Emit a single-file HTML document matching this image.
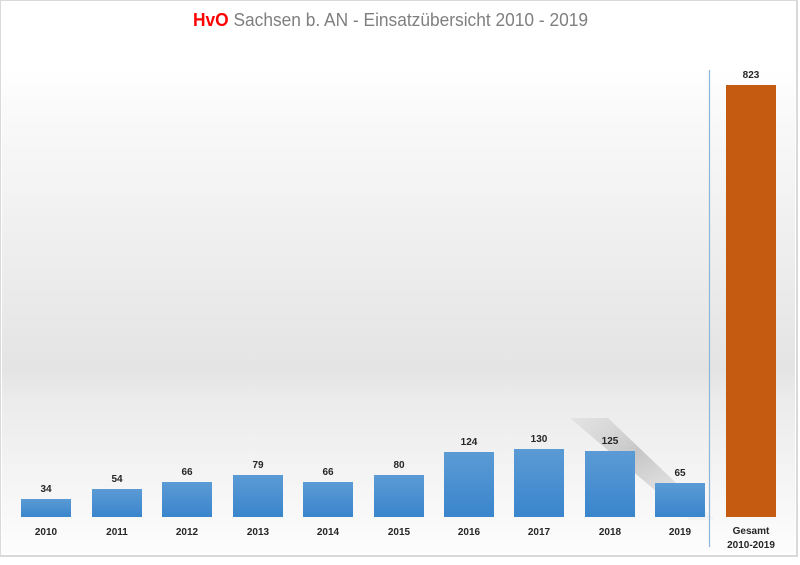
<!DOCTYPE html>
<html><head><meta charset="utf-8"><style>
body{margin:0;width:800px;height:560px;background:#fff;overflow:hidden}
</style></head><body>
<svg width="800" height="560" xmlns="http://www.w3.org/2000/svg" font-family="Liberation Sans, sans-serif">
<defs>
<linearGradient id="bg" x1="0" y1="0" x2="0" y2="1">
<stop offset="0" stop-color="#ffffff"/>
<stop offset="0.08" stop-color="#fafafa"/>
<stop offset="0.62" stop-color="#e4e4e4"/>
<stop offset="0.68" stop-color="#ebebeb"/>
<stop offset="1" stop-color="#fdfdfd"/>
</linearGradient>
<linearGradient id="blue" x1="0" y1="0" x2="0" y2="1">
<stop offset="0" stop-color="#5b9bd5"/><stop offset="1" stop-color="#3a85cc"/>
</linearGradient>
<linearGradient id="sh" x1="0" y1="0" x2="1" y2="1">
<stop offset="0" stop-color="#bbb" stop-opacity="0.2"/><stop offset="0.4" stop-color="#aaa" stop-opacity="0.6"/><stop offset="1" stop-color="#ccc" stop-opacity="0.1"/>
</linearGradient>
</defs>
<rect x="0" y="0" width="797" height="556" fill="#fff" stroke="#d9d9d9" stroke-width="2"/>
<rect x="2" y="68" width="793" height="486" fill="url(#bg)"/>
<polygon points="570,418 608,418 715,520 690,520" fill="url(#sh)"/>
<text x="193" y="26" font-size="18" fill="#7f7f7f" textLength="395" lengthAdjust="spacingAndGlyphs"><tspan fill="#ff0000" font-weight="bold">HvO</tspan> Sachsen b. AN -  Einsatzübersicht  2010 - 2019</text>
<line x1="709.5" y1="70" x2="709.5" y2="547" stroke="#8fb4d9" stroke-width="1.2"/>
<g fill="url(#blue)">
<rect x="21" y="499" width="50" height="18"/>
<rect x="92" y="489" width="50" height="28"/>
<rect x="162" y="482" width="50" height="35"/>
<rect x="233" y="475" width="50" height="42"/>
<rect x="303" y="482" width="50" height="35"/>
<rect x="374" y="475" width="50" height="42"/>
<rect x="444" y="452" width="50" height="65"/>
<rect x="514" y="449" width="50" height="68"/>
<rect x="585" y="451" width="50" height="66"/>
<rect x="655" y="483" width="50" height="34"/>
</g>
<rect x="726" y="85" width="50" height="432" fill="#c55a11"/>
<g font-size="10" font-weight="bold" fill="#262626" text-anchor="middle">
<text x="46" y="492">34</text><text x="117" y="482">54</text><text x="187" y="475">66</text>
<text x="258" y="468">79</text><text x="328" y="475">66</text><text x="399" y="468">80</text>
<text x="469" y="445">124</text><text x="539" y="442">130</text><text x="610" y="444">125</text>
<text x="680" y="476">65</text><text x="751" y="78">823</text>
<text x="46" y="535">2010</text><text x="117" y="535">2011</text><text x="187" y="535">2012</text>
<text x="258" y="535">2013</text><text x="328" y="535">2014</text><text x="399" y="535">2015</text>
<text x="469" y="535">2016</text><text x="539" y="535">2017</text><text x="610" y="535">2018</text>
<text x="680" y="535">2019</text><text x="751" y="534">Gesamt</text><text x="751" y="548">2010-2019</text>
</g>
</svg>
</body></html>
